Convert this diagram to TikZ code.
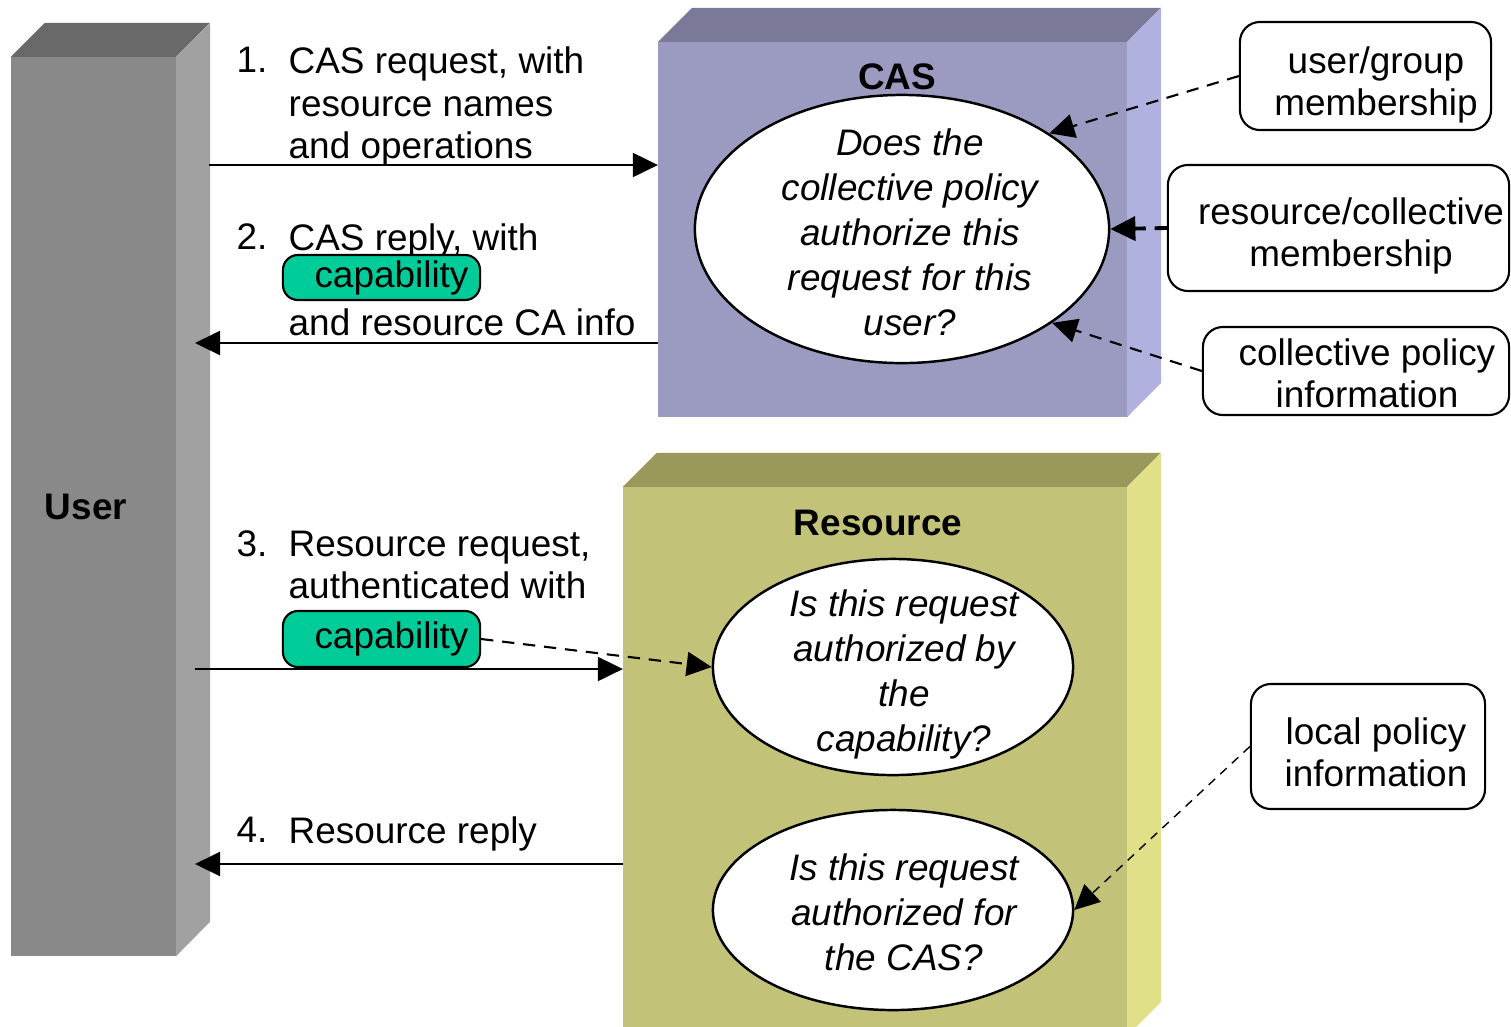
\documentclass[tikz,border=0pt]{standalone}
\usepackage{fontspec}
\setmainfont{Liberation Sans}
\usetikzlibrary{arrows.meta, shapes.geometric}
\definecolor{userfront}{HTML}{898989}
\definecolor{usertop}{HTML}{696969}
\definecolor{userside}{HTML}{A1A1A1}
\definecolor{casfront}{HTML}{9B9BC2}
\definecolor{castop}{HTML}{7A7A98}
\definecolor{casside}{HTML}{B1B1DF}
\definecolor{resfront}{HTML}{C2C278}
\definecolor{restop}{HTML}{99995C}
\definecolor{resside}{HTML}{E0E088}
\definecolor{capgreen}{HTML}{00CC99}
\tikzset{>={Triangle[length=2.5mm, width=2.4mm]}}

\begin{document}
\begin{tikzpicture}[x=0.01cm, y=-0.01cm,
    face/.style={inner sep=0, outer sep=0},
    flow/.style={line width=0.6pt, ->},
    dep/.style={line width=0.6pt, dash pattern=on 3.5pt off 2.5pt, ->},
    lbl/.style={anchor=north west, inner sep=0, align=left,
        font=\fontsize{10.5}{12.1}\selectfont},
    blocktitle/.style={font=\fontsize{10.5}{12}\selectfont\bfseries, inner sep=0},
    capbox/.style={draw, fill=capgreen, rounded corners=1.5mm, line width=0.6pt,
        minimum width=1.97cm, inner sep=0, font=\fontsize{10.5}{12}\selectfont},
    query/.style={draw, fill=white, ellipse, inner sep=0, line width=0.7pt},
    qtext/.style={align=center, inner sep=0,
        font=\fontsize{10.5}{12.8}\selectfont\itshape},
    info/.style={draw, rounded corners=2mm, inner sep=0, line width=0.6pt},
    infotext/.style={align=center, inner sep=0,
        font=\fontsize{10.5}{12}\selectfont}]
\useasboundingbox (0,0) rectangle (1511,1026);

% User block
\node[face, fill=userfront, minimum width=1.65cm, minimum height=8.99cm] (user) at (93.5,506.5) {};
\fill[usertop] (user.north west) -- ++(34,-34) -- ++(165,0) -- (user.north east) -- cycle;
\fill[userside] (user.north east) -- ++(34,-34) -- ++(0,899) -- (user.south east) -- cycle;
\node[blocktitle] (usert) at (86,507) {User};

% CAS block
\node[face, fill=casfront, minimum width=4.69cm, minimum height=3.75cm] (cas) at (892.5,229.5) {};
\fill[castop] (cas.north west) -- ++(34,-34) -- ++(469,0) -- (cas.north east) -- cycle;
\fill[casside] (cas.north east) -- ++(34,-34) -- ++(0,375) -- (cas.south east) -- cycle;
\node[blocktitle] (cast) at (897,77) {CAS};

% Resource block
\node[face, fill=resfront, minimum width=5.04cm, minimum height=5.49cm] (res) at (875,761.5) {};
\fill[restop] (res.north west) -- ++(34,-34) -- ++(504,0) -- (res.north east) -- cycle;
\fill[resside] (res.north east) -- ++(34,-34) -- ++(0,549) -- (res.south east) -- cycle;
\node[blocktitle] (rest) at (878,523) {Resource};

% questions
\node[query, minimum width=4.14cm, minimum height=2.68cm] (casq) at (902,229) {};
\node[qtext] (casqt) at (910,232) {Does the\\collective policy\\authorize this\\request for this\\user?};
\node[query, minimum width=3.6cm, minimum height=2.16cm] (resq1) at (893,667) {};
\node[qtext] (resqt1) at (904,674) {Is this request\\authorized by\\the\\capability?};
\node[query, minimum width=3.6cm, minimum height=2.0cm] (resq2) at (893,910) {};
\node[qtext] (resqt2) at (904,912) {Is this request\\authorized for\\the CAS?};

% information sources
\node[info, minimum width=2.51cm, minimum height=1.08cm] (ug) at (1365.5,76) {};
\node[infotext] (ugt) at (1376,85) {user/group\\membership};
\node[info, minimum width=3.41cm, minimum height=1.26cm] (rc) at (1338.5,228) {};
\node[infotext] (rct) at (1351,236) {resource/collective\\membership};
\node[info, minimum width=3.06cm, minimum height=0.88cm] (cp) at (1356,371) {};
\node[infotext] (cpt) at (1367,373) {collective policy\\information};
\node[info, minimum width=2.34cm, minimum height=1.25cm] (lp) at (1368,746.5) {};
\node[infotext] (lpt) at (1376,752) {local policy\\information};

% message labels
\node[lbl] (n1) at (236,46) {1.};
\node[lbl] (t1) at (288,46) {CAS request, with\\resource names\\and operations};
\node[lbl] (n2) at (236,223) {2.};
\node[lbl] (t2a) at (288,223) {CAS reply, with};
\node[capbox, minimum height=0.45cm] (cap2) at (381.5,277.5) {\hspace{2mm}capability};
\node[lbl] (t2b) at (288,308) {and resource CA info};
\node[lbl] (n3) at (236,530) {3.};
\node[lbl] (t3) at (288,530) {Resource request,\\authenticated with};
\node[capbox, minimum height=0.56cm] (cap3) at (381.5,639) {\hspace{2mm}capability};
\node[lbl] (n4) at (236,816) {4.};
\node[lbl] (t4) at (288,816) {Resource reply};

% messages
\coordinate (u1) at (209,165);
\coordinate (u2) at (195,343);
\coordinate (u3) at (195,669);
\coordinate (u4) at (195,864);
\draw[flow] (u1) -- (cas.west |- u1);
\draw[flow] (cas.west |- u2) -- (u2);
\draw[flow] (u3) -- (res.west |- u3);
\draw[flow] (res.west |- u4) -- (u4);

% inputs to the decisions
\draw[dep] (ug.west) -- (casq.33);
\draw[dep, line width=1.1pt] (rc.west) -- (casq.east);
\draw[dep] (cp.west) -- (casq.-32);
\draw[dep] (cap3.east) -- (resq1.west);
\draw[dep, line width=0.4pt, dash pattern=on 2.5pt off 2pt] (lp.west) -- (resq2.east);
\end{tikzpicture}
\end{document}
